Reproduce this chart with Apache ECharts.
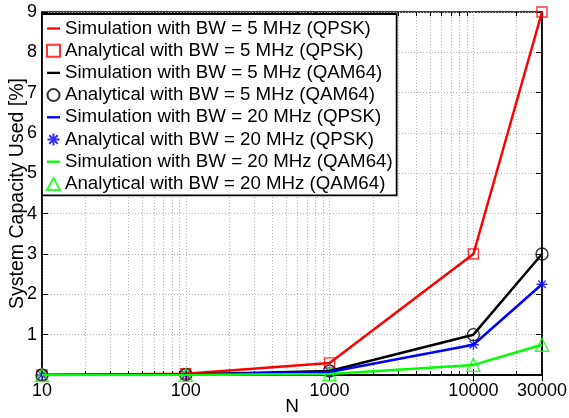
<!DOCTYPE html>
<html>
<head>
<meta charset="utf-8">
<script src="https://cdn.jsdelivr.net/npm/echarts@6/dist/echarts.min.js"></script>
<style>
html,body{margin:0;padding:0;background:#fff;}
#c{width:569px;height:418px;}
</style>
</head>
<body>
<div id="c"></div>
<script>
var N = [10, 100, 1000, 10000, 30000];
var sim5QPSK = [0.003, 0.03, 0.3, 3, 9];
var ana5QPSK = [0.003, 0.03, 0.3, 3, 9];
var sim5QAM64 = [0.001, 0.01, 0.1, 1, 3];
var ana5QAM64 = [0.001, 0.01, 0.1, 1, 3];
var sim20QPSK = [0.00075, 0.0075, 0.075, 0.75, 2.25];
var ana20QPSK = [0.00075, 0.0075, 0.075, 0.75, 2.25];
var sim20QAM64 = [0.00025, 0.0025, 0.025, 0.25, 0.75];
var ana20QAM64 = [0.00025, 0.0025, 0.025, 0.25, 0.75];
var minorX = [20,30,40,50,60,70,80,90,200,300,400,500,600,700,800,900,2000,3000,4000,5000,6000,7000,8000,9000,20000];
var names = [
  'Simulation with BW = 5 MHz (QPSK)',
  'Analytical with BW = 5 MHz (QPSK)',
  'Simulation with BW = 5 MHz (QAM64)',
  'Analytical with BW = 5 MHz (QAM64)',
  'Simulation with BW = 20 MHz (QPSK)',
  'Analytical with BW = 20 MHz (QPSK)',
  'Simulation with BW = 20 MHz (QAM64)',
  'Analytical with BW = 20 MHz (QAM64)'
];

function pairs(ys){ return N.map(function(x,i){ return [x, ys[i]]; }); }

var FONT = 'Liberation Sans, Arial, Helvetica, sans-serif';
var gridLine = {color:'#b4b4b4', width:1, type:[1,2]};
var star = 'path://M0,-10L0,10M-10,0L10,0M-7,-7L7,7M-7,7L7,-7';
var lineIcon = 'path://M0,0L14,0L14,2.5L0,2.5Z';

var markData = [];
minorX.forEach(function(v){
  markData.push({xAxis: v, lineStyle: gridLine});
  markData.push([{coord:[v,0], lineStyle:{color:'#000',width:1,type:'solid'}},{coord:[v,0.1]}]);
  markData.push([{coord:[v,9], lineStyle:{color:'#000',width:1,type:'solid'}},{coord:[v,8.9]}]);
});

function simSeries(name, ys, color, extra){
  var s = {
    name: name, type:'line', data: pairs(ys), symbol:'none', showSymbol:false,
    lineStyle:{color: color, width: 2.5}, itemStyle:{color: color},
    animation:false, silent:true
  };
  if (extra) s.markLine = extra;
  return s;
}
function anaSeries(name, ys, color, symbol, size){
  return {
    name: name, type:'scatter', data: pairs(ys), symbol: symbol, symbolSize: size,
    itemStyle:{color:'rgba(255,255,255,0)', borderColor: color, borderWidth: 1.4},
    animation:false, silent:true
  };
}

var legendData = names.map(function(n, i){
  return i % 2 === 0 ? {name: n, icon: lineIcon} : {name: n};
});

var chart = echarts.init(document.getElementById('c'), null, {renderer:'canvas'});
chart.setOption({
  animation:false,
  backgroundColor:'#fff',
  textStyle:{fontFamily: FONT},
  grid:{left:42, right:27, top:12, bottom:43, outerBoundsMode:'none', containLabel:false,
    show:true, borderColor:'#000', borderWidth:1.5, backgroundColor:'transparent'},
  legend:{
    orient:'vertical', left:42, top:14,
    padding:[5,4,2,4], itemGap:3.2, itemWidth:13, itemHeight:12,
    backgroundColor:'#fff', borderColor:'#000', borderWidth:1.8, borderRadius:0,
    textStyle:{fontFamily: FONT, fontSize:18.7, lineHeight:19, color:'#000'},
    selectedMode:false,
    data: legendData
  },
  xAxis:[{
    type:'log', logBase:10, min:10, max:30000,
    name:'N', nameLocation:'middle', nameGap:22, nameMoveOverlap:false,
    nameTextStyle:{fontFamily: FONT, fontSize:19, color:'#000'},
    axisLine:{show:true, lineStyle:{color:'#000', width:1.5}},
    axisTick:{show:true, inside:true, length:6, lineStyle:{color:'#000'}},
    axisLabel:{fontFamily: FONT, fontSize:18, color:'#000', margin:7, showMaxLabel:true, hideOverlap:false,
      formatter:function(v){ return String(Math.round(v)); }},
    splitLine:{show:true, lineStyle: gridLine}
  },{
    type:'log', logBase:10, min:10, max:30000, position:'top',
    axisLine:{show:true, lineStyle:{color:'#000', width:1.5}},
    axisTick:{show:true, inside:true, length:6, lineStyle:{color:'#000'}},
    axisLabel:{show:false}, splitLine:{show:false}
  }],
  yAxis:[{
    type:'value', min:0, max:9, interval:1,
    name:'System Capacity Used [%]', nameLocation:'middle', nameGap:14, nameRotate:90, nameMoveOverlap:false,
    nameTextStyle:{fontFamily: FONT, fontSize:19.5, color:'#000'},
    axisLine:{show:true, lineStyle:{color:'#000', width:1.5}},
    axisTick:{show:true, inside:true, length:6, lineStyle:{color:'#000'}},
    axisLabel:{fontFamily: FONT, fontSize:18, color:'#000', margin:5, hideOverlap:false,
      formatter:function(v){ return v === 0 ? '' : String(v); }},
    splitLine:{show:true, lineStyle: gridLine}
  },{
    type:'value', min:0, max:9, interval:1, position:'right',
    axisLine:{show:true, lineStyle:{color:'#000', width:1.5}},
    axisTick:{show:true, inside:true, length:6, lineStyle:{color:'#000'}},
    axisLabel:{show:false}, splitLine:{show:false}
  }],
  series:[
    simSeries(names[0], sim5QPSK, '#ff0000', {silent:true, symbol:['none','none'], label:{show:false}, animation:false, z:1, data: markData}),
    anaSeries(names[1], ana5QPSK, '#ff0000', 'rect', 10),
    simSeries(names[2], sim5QAM64, '#000000'),
    anaSeries(names[3], ana5QAM64, '#000000', 'circle', 12),
    simSeries(names[4], sim20QPSK, '#0000ff'),
    anaSeries(names[5], ana20QPSK, '#0000ff', star, 11),
    simSeries(names[6], sim20QAM64, '#00ff00'),
    anaSeries(names[7], ana20QAM64, '#00ff00', 'triangle', 13)
  ]
});
</script>
</body>
</html>
